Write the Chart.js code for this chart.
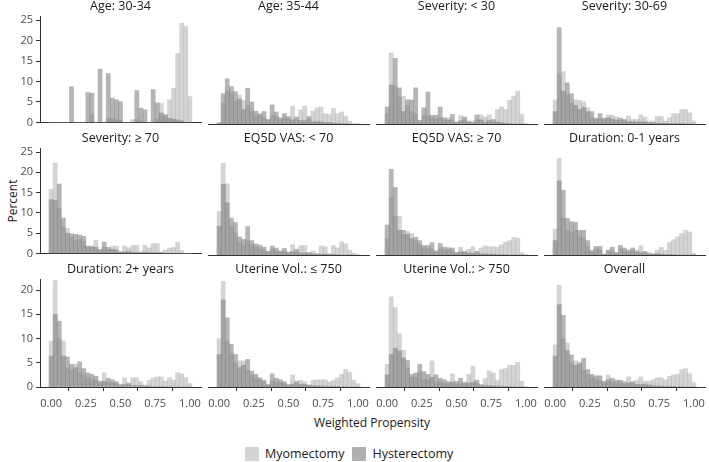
<!DOCTYPE html>
<html>
<head>
<meta charset="utf-8">
<script src="https://cdn.jsdelivr.net/npm/chart.js@4.4.0/dist/chart.umd.min.js"></script>
<style>
  body { margin: 0; background: #fff; font-family: "Open Sans", sans-serif; }
  #wrap { position: relative; width: 709px; height: 462px; overflow: hidden; }
  .panel { position: absolute; }
  .panel canvas { display: block; }
  .ytitle { position: absolute; left: 12px; top: 201px; transform: translate(-50%, -50%) rotate(-90deg);
            font-size: 12px; color: #1a1a1a; white-space: nowrap; }
  .xtitle { position: absolute; left: 372px; top: 422px; transform: translate(-50%, -50%);
            font-size: 12px; color: #1a1a1a; white-space: nowrap; }
  .legend { position: absolute; left: 245px; top: 445px; display: flex; align-items: center;
            font-size: 12.5px; color: #1a1a1a; white-space: nowrap; }
  .legend .sw { display: inline-block; width: 14px; height: 14px; margin-right: 6px; }
  .legend .item { display: flex; align-items: center; margin-right: 8px; }
</style>
</head>
<body>
<div id="wrap">
  <div class="ytitle">Percent</div>
  <div class="xtitle">Weighted Propensity</div>
  <div class="legend">
    <div class="item"><span class="sw" style="background:#d4d4d4"></span>Myomectomy</div>
    <div class="item"><span class="sw" style="background:#b0b0b0"></span>Hysterectomy</div>
  </div>
</div>
<script>
// bin centres of the histogram (35 bins on the propensity axis)
const binCenters = [0, 0.0294, 0.0588, 0.0882, 0.1176, 0.1471, 0.1765, 0.2059, 0.2353, 0.2647,
  0.2941, 0.3235, 0.3529, 0.3824, 0.4118, 0.4412, 0.4706, 0.5, 0.5294, 0.5588, 0.5882, 0.6176,
  0.6471, 0.6765, 0.7059, 0.7353, 0.7647, 0.7941, 0.8235, 0.8529, 0.8824, 0.9118, 0.9412, 0.9706, 1.0];

const xTicks = [0, 0.25, 0.5, 0.75, 1];
const yTicksTop = [0, 5, 10, 15, 20, 25];
const yTicksBottom = [0, 5, 10, 15, 20];

const panelTitles = ['Age: 30-34', 'Age: 35-44', 'Severity: < 30', 'Severity: 30-69',
  'Severity: \u2265 70', 'EQ5D VAS: < 70', 'EQ5D VAS: \u2265 70', 'Duration: 0-1 years',
  'Duration: 2+ years', 'Uterine Vol.: \u2264 750', 'Uterine Vol.: > 750', 'Overall'];

// percent per bin, Myomectomy / Hysterectomy
const myoAge3034 = [0,0,0,0,0,0,0,0,0,0,1.9,0,0,0,1.0,1.0,0.8,0.5,0,0,0.7,0.7,0.4,0,0,0,1.0,4.6,1.6,5.5,8.3,16.8,24.2,23.4,6.3];
const hystAge3034 = [0,0,0,0,0,8.7,0,0,0,7.3,7.1,0,13.0,0,11.9,5.9,5.5,5.0,0,0,0,7.8,3.5,3.1,0,8.0,4.8,2.3,1.9,1.0,0.8,0.6,0.4,0,0];
const myoAge3544 = [0.2,5.0,8.0,7.5,5.5,7.0,5.7,4.5,3.0,2.0,2.0,1.5,0.8,2.0,1.8,1.0,1.5,1.2,4.3,1.0,3.4,4.3,1.2,3.1,3.9,4.1,2.5,2.3,3.8,2.5,2.9,1.9,0.7,0,0];
const hystAge3544 = [0.3,7.3,10.9,9.0,7.8,6.0,3.5,8.6,5.3,3.1,2.5,3.0,1.1,4.6,2.9,1.5,2.5,1.8,1.0,1.7,0.8,0.8,1.8,0.5,0.6,0.5,0.3,0.4,0.2,0.2,0.1,0.1,0,0,0];
const myoSevLow = [2.5,17.1,9.0,6.5,6.7,4.5,3.0,2.5,0.5,2.0,2.0,1.5,1.2,1.5,1.0,1.5,0.8,0.3,2.0,1.0,0.3,0.7,1.0,2.2,1.7,2.2,0.5,3.5,4.1,3.5,5.7,6.7,7.9,2.3,0];
const hystSevLow = [4.1,9.4,15.8,8.7,3.0,5.8,5.8,8.7,0.9,3.9,7.7,2.1,2.1,4.1,1.5,1.0,2.3,0.5,0.8,1.7,0.7,0.3,2.2,1.0,0.5,0.8,1.1,0.5,0.3,0.2,0.1,0,0,0,0];
const myoSevMid = [5.8,12.0,12.6,7.0,5.0,5.8,5.7,5.3,3.9,1.5,1.0,1.2,1.0,2.2,2.1,1.7,0.8,0.8,1.9,1.1,1.1,2.2,1.7,0.7,0.7,1.8,1.8,0.7,1.5,2.5,2.5,3.5,3.5,2.7,0.7];
const hystSevMid = [3.0,23.2,7.9,9.9,7.3,4.5,3.5,4.0,3.0,3.0,1.4,2.5,1.4,1.5,1.2,1.0,1.4,1.1,0.6,0.6,0.5,0.5,0.5,0.3,0.3,0.2,0.2,0.2,0.1,0.1,0.1,0.1,0,0,0];
const myoSevHigh = [15.8,22.3,11.1,6.5,6.2,4.0,3.2,3.5,3.0,1.5,1.5,3.2,0.5,1.5,1.0,1.8,1.8,0.3,1.8,1.4,2.0,2.0,0.4,2.0,1.4,2.4,2.4,0.4,0.8,1.3,1.5,2.7,0.7,0,0];
const hystSevHigh = [13.3,13.0,17.1,8.7,5.0,4.8,4.7,4.5,4.2,1.8,1.8,1.5,1.0,2.8,1.5,1.0,0.8,0.4,0.3,0.5,0.3,0.2,0.2,0.3,0.2,0.2,0.1,0.1,0,0,0,0,0,0,0];
const myoVasLow = [10.6,22.3,17.3,7.0,5.5,3.0,2.5,3.5,2.5,2.0,1.5,1.2,0.6,1.5,1.0,0.7,1.0,0.5,2.5,0.8,2.3,2.3,0.3,1.0,0.4,2.2,2.0,0.4,2.3,1.7,3.2,2.7,1.2,0.4,0];
const hystVasLow = [7.0,17.2,12.7,9.0,7.9,4.4,3.8,6.9,3.5,2.7,2.4,1.9,0.9,2.2,1.7,1.0,1.6,0.7,0.8,1.4,0.5,0.5,0.6,0.3,0.2,0.2,0.2,0.1,0.1,0.1,0,0,0,0,0];
const myoVasHigh = [4.0,14.0,9.5,9.4,5.0,5.7,5.2,3.5,2.5,1.8,1.5,1.5,0.7,1.5,1.2,1.9,1.0,0.4,1.9,0.6,1.4,2.0,0.5,1.7,2.2,2.0,2.0,1.9,2.5,3.1,3.5,4.3,4.1,0.6,0];
const hystVasHigh = [7.3,20.8,16.4,6.0,6.0,5.0,4.0,4.3,3.5,2.3,2.3,3.0,1.0,2.8,1.9,1.5,1.7,0.6,0.8,0.9,0.5,0.4,0.9,0.3,0.3,0.2,0.2,0.1,0.1,0.1,0,0,0,0,0];
const myoDurShort = [6.3,23.5,9.0,6.0,5.5,6.0,4.5,4.0,2.0,0.8,1.5,1.3,0.2,0.8,1.0,0.4,1.5,1.0,0.8,1.2,1.2,2.2,0.5,0.6,0.4,1.2,1.9,1.1,3.1,3.7,4.4,5.2,6.0,5.6,0.4];
const hystDurShort = [3.5,18.0,15.7,8.9,8.1,7.9,6.0,6.0,3.5,1.1,2.1,2.1,0.2,1.2,1.9,0.6,2.3,1.7,1.2,1.7,0.8,0.6,0.9,0.3,0.2,0.3,0.2,0.1,0.1,0.1,0,0,0,0,0];
const myoDurLong = [9.5,22.0,10.0,9.5,4.0,3.5,4.7,3.0,2.5,2.0,1.5,1.5,0.8,2.9,1.0,0.8,0.7,0.3,1.9,0.5,1.9,1.9,1.1,0.4,1.4,1.9,2.1,2.1,1.2,1.9,1.4,3.0,2.7,1.9,0.7];
const hystDurLong = [6.4,15.0,13.6,6.4,6.2,4.7,4.0,5.2,3.8,2.9,2.6,2.2,1.2,1.2,1.8,1.5,1.1,0.5,0.5,0.8,0.3,0.3,0.3,0.2,0.2,0.1,0.1,0.1,0.1,0,0,0,0,0,0];
const myoVolLow = [10.0,21.8,9.5,7.0,5.0,5.4,5.4,3.5,2.5,1.8,1.5,1.0,0.4,1.2,1.0,0.9,0.7,0.3,2.5,0.8,1.4,1.1,0.5,1.4,1.5,1.5,1.5,1.1,1.4,1.9,2.6,3.6,3.0,1.4,0.7];
const hystVolLow = [6.7,18.0,14.3,8.8,6.7,4.0,4.5,5.7,3.3,2.6,1.9,1.4,0.5,2.7,1.8,1.5,1.1,0.5,0.6,1.2,0.5,0.5,0.3,0.3,0.2,0.2,0.1,0.1,0.1,0.1,0,0,0,0,0];
const myoVolHigh = [4.7,18.6,16.4,11.0,7.6,4.0,2.0,2.0,3.0,1.5,1.5,5.4,1.0,1.0,0.8,0.8,2.7,0.6,0.8,0.5,2.6,4.3,0.8,0.3,1.8,3.3,2.9,1.4,3.6,3.8,4.5,4.5,5.1,1.2,0];
const hystVolHigh = [2.5,6.7,8.0,7.5,6.0,5.5,2.6,2.9,4.7,3.2,2.6,2.0,2.5,1.8,1.5,1.1,1.0,1.2,1.8,1.0,0.8,1.0,1.4,0.5,0.3,0.3,0.2,0.2,0.1,0.1,0.1,0,0,0,0];
const myoOverall = [8.7,21.0,10.0,9.1,5.0,5.4,5.2,3.5,2.5,2.0,1.5,1.3,0.8,2.5,1.0,1.0,0.8,0.6,2.1,0.8,1.4,2.1,1.2,1.2,1.5,1.9,1.9,1.5,2.2,2.5,2.6,3.6,3.8,2.7,0.9];
const hystOverall = [6.4,17.0,14.8,7.5,6.6,4.5,4.8,5.9,3.6,2.6,2.3,2.3,1.2,1.5,1.8,1.4,1.4,1.1,0.8,1.1,0.5,0.5,0.6,0.4,0.3,0.2,0.2,0.1,0.1,0.1,0,0,0,0,0];

const myoSeries = [myoAge3034, myoAge3544, myoSevLow, myoSevMid, myoSevHigh, myoVasLow,
  myoVasHigh, myoDurShort, myoDurLong, myoVolLow, myoVolHigh, myoOverall];
const hystSeries = [hystAge3034, hystAge3544, hystSevLow, hystSevMid, hystSevHigh, hystVasLow,
  hystVasHigh, hystDurShort, hystDurLong, hystVolLow, hystVolHigh, hystOverall];

// layout of the 4 x 3 grid (plot area of each panel)
const colLeft = [40, 208, 376, 544];
const panelW = 161;
const rowTop = [16, 148, 279];
const rowH = [108, 107, 108];
const rowMax = [26, 26, 22.3];
const titleH = 17;

Chart.defaults.font.family = '"Open Sans", sans-serif';

const wrap = document.getElementById('wrap');
const tickFont = { size: 11 };
const axisCol = '#333333';

panelTitles.forEach(function (title, i) {
    const col = i % 4;
    const row = Math.floor(i / 4);
    const isLeft = col === 0;
    const isBottom = row === 2;

    const padL = isLeft ? 0 : 14;
    const yAxisW = isLeft ? 40 : 0;
    const padR = 14;
    const bottomH = isBottom ? 32 : 8;
    const cw = padL + yAxisW + panelW + padR;
    const ch = titleH + rowH[row] + bottomH;

    const div = document.createElement('div');
    div.className = 'panel';
    div.style.left = (colLeft[col] - padL - yAxisW) + 'px';
    div.style.top = (rowTop[row] - titleH) + 'px';
    const canvas = document.createElement('canvas');
    canvas.width = cw;
    canvas.height = ch;
    canvas.style.width = cw + 'px';
    canvas.style.height = ch + 'px';
    div.appendChild(canvas);
    wrap.appendChild(div);

    const yTicks = row === 2 ? yTicksBottom : yTicksTop;

    new Chart(canvas, {
        type: 'bar',
        data: {
            datasets: [{
                label: 'Myomectomy',
                data: binCenters.map((x, k) => ({ x: x, y: myoSeries[i][k] })),
                backgroundColor: 'rgba(160,160,160,0.45)',
                order: 1
            }, {
                label: 'Hysterectomy',
                data: binCenters.map((x, k) => ({ x: x, y: hystSeries[i][k] })),
                backgroundColor: 'rgba(128,128,128,0.58)',
                order: 0
            }]
        },
        options: {
            responsive: false,
            animation: false,
            devicePixelRatio: 1,
            layout: { padding: { left: padL, right: padR, top: 0, bottom: isBottom ? 0 : bottomH } },
            datasets: { bar: { grouped: false, barPercentage: 1, categoryPercentage: 1, borderWidth: 0 } },
            plugins: {
                legend: { display: false },
                tooltip: { enabled: false },
                title: {
                    display: true,
                    text: title,
                    fullSize: false,
                    color: '#1a1a1a',
                    font: { size: 12.5, weight: 'normal', lineHeight: 1.2 },
                    padding: { top: 0, bottom: 2 }
                }
            },
            scales: {
                x: {
                    type: 'linear',
                    min: -0.08,
                    max: 1.08,
                    offset: false,
                    afterBuildTicks: axis => { axis.ticks = xTicks.map(v => ({ value: v })); },
                    ticks: {
                        display: isBottom,
                        autoSkip: false,
                        maxRotation: 0,
                        padding: 6,
                        color: '#4d4d4d',
                        font: tickFont,
                        callback: v => v.toFixed(2)
                    },
                    grid: { display: isBottom, drawOnChartArea: false, drawTicks: true, tickLength: 4, color: axisCol },
                    border: { display: true, color: axisCol, width: 1 },
                    afterFit: s => { s.height = isBottom ? bottomH : 0; }
                },
                y: {
                    display: isLeft,
                    min: 0,
                    max: rowMax[row],
                    afterBuildTicks: axis => { axis.ticks = yTicks.map(v => ({ value: v })); },
                    ticks: { padding: 3, color: '#4d4d4d', font: tickFont },
                    grid: { drawOnChartArea: false, drawTicks: true, tickLength: 4, color: axisCol },
                    border: { display: true, color: axisCol, width: 1 },
                    afterFit: s => { s.width = yAxisW; }
                }
            }
        }
    });
});
</script>
</body>
</html>
